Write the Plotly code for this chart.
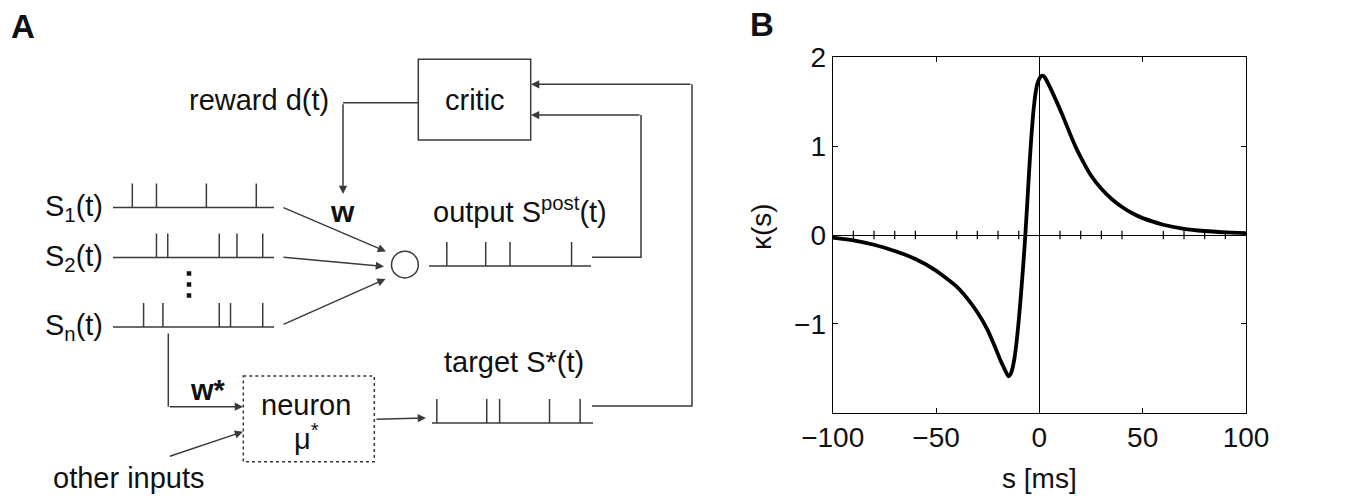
import plotly.graph_objects as go

# ---------------- data ----------------
# spike times (ms inside a 100 ms window) of each spike train in panel A
spikes_s1 = [12, 27, 58, 89]
spikes_s2 = [27, 34, 66, 77, 93]
spikes_sn = [19, 31, 66, 73, 93]
spikes_post = [11, 35, 50, 88]
spikes_target = [3, 34, 42, 73, 92]

# learning window kappa(s) of panel B
s_ms = [-100, -90, -80, -70, -60, -50, -40, -35, -30, -25, -22, -19, -17, -16,
        -15, -14, -13, -12, -11, -10, -9, -8, -7, -6, -5, -4, -3, -2, -1, 0, 1,
        2, 3, 5, 8, 11, 15, 18, 22, 25, 30, 35, 40, 45, 50, 55, 60, 70, 80, 90, 100]
kappa = [-0.03, -0.06, -0.11, -0.18, -0.27, -0.40, -0.58, -0.71, -0.87, -1.07,
         -1.23, -1.40, -1.50, -1.55, -1.59, -1.57, -1.50, -1.38, -1.20, -0.97,
         -0.70, -0.40, -0.08, 0.30, 0.70, 1.06, 1.36, 1.57, 1.70, 1.76, 1.79,
         1.79, 1.76, 1.67, 1.52, 1.36, 1.13, 0.97, 0.79, 0.67, 0.52, 0.405, 0.315,
         0.245, 0.19, 0.15, 0.115, 0.07, 0.045, 0.03, 0.02]

x_tick_vals = [-100, -50, 0, 50, 100]
y_tick_vals = [-1, 0, 1, 2]
y_tick_text = ["\u22121", "0", "1", "2"]
minor_x = [-90, -80, -70, -60, -40, -30, -20, -10, 10, 20, 30, 40, 60, 70, 80, 90]

# ---------------- styling ----------------
W, H = 1349, 496
FONT = "Liberation Sans, Arial, Helvetica, sans-serif"
LINE = "#3a3a3a"
LW = 1.5
TXT = 29
SPIKE_H = 24

fig = go.Figure()


def train_xy(times, x0, x1, yb):
    xs, ys = [x0, x1, None], [yb, yb, None]
    for t in times:
        px = x0 + t / 100.0 * (x1 - x0)
        xs += [px, px, None]
        ys += [yb, yb - SPIKE_H, None]
    return xs, ys


trains = [
    (spikes_s1, 113, 274, 207.5),
    (spikes_s2, 113, 274, 257.5),
    (spikes_sn, 113, 274, 327),
    (spikes_post, 429, 591, 266),
    (spikes_target, 432, 593, 423),
]
for times, x0, x1, yb in trains:
    xs, ys = train_xy(times, x0, x1, yb)
    fig.add_trace(go.Scatter(x=xs, y=ys, mode="lines", xaxis="x", yaxis="y",
                             line=dict(color=LINE, width=LW), hoverinfo="skip",
                             showlegend=False))

# plain connector polylines
paths = [
    ([418, 343], [102.7, 102.7]),                  # critic -> reward line
    ([592, 641, 641], [257.3, 257.3, 115]),        # output feedback
    ([592, 692, 692], [406, 406, 84.3]),           # target feedback
    ([168.3, 168.3], [333.5, 406.7]),              # w* branch
]
for xs, ys in paths:
    fig.add_trace(go.Scatter(x=xs, y=ys, mode="lines", xaxis="x", yaxis="y",
                             line=dict(color=LINE, width=LW), hoverinfo="skip",
                             showlegend=False))

# vertical ellipsis between S2 and Sn
fig.add_trace(go.Scatter(x=[189, 189, 189], y=[273.5, 284.5, 295.5], mode="markers",
                         xaxis="x", yaxis="y",
                         marker=dict(symbol="square", size=4.5, color="#111"),
                         hoverinfo="skip", showlegend=False))

shapes = [
    dict(type="rect", xref="x", yref="y", x0=418.3, x1=530.7, y0=59.3, y1=140,
         line=dict(color=LINE, width=LW)),
    dict(type="rect", xref="x", yref="y", x0=243.3, x1=374.3, y0=376, y1=461.7,
         line=dict(color=LINE, width=LW, dash="dot")),
    dict(type="circle", xref="x", yref="y", x0=391.5, x1=418.3, y0=251.3, y1=278,
         line=dict(color=LINE, width=LW)),
]

annotations = []


def arrow(x_head, y_head, x_tail, y_tail):
    annotations.append(dict(x=x_head, y=y_head, ax=x_tail, ay=y_tail,
                            xref="x", yref="y", axref="x", ayref="y", text="",
                            showarrow=True, arrowhead=2, arrowsize=1.1,
                            arrowwidth=LW, arrowcolor=LINE, standoff=0))


arrow(343, 194, 343, 102.7)        # reward -> w
arrow(386, 251.5, 282, 207)        # S1 -> neuron
arrow(384, 266.5, 282, 257)        # S2 -> neuron
arrow(385.5, 279, 282, 325)        # Sn -> neuron
arrow(531, 115, 641, 115)          # output -> critic
arrow(531, 84.3, 692, 84.3)        # target -> critic
arrow(243, 406.7, 168.3, 406.7)    # w* -> teacher neuron
arrow(243, 431.7, 168.3, 456.7)    # other inputs -> teacher neuron
arrow(426, 418, 375, 419.3)        # teacher neuron -> target train


def label(x, y, text, size=TXT, xanchor="center", **kw):
    annotations.append(dict(x=x, y=y, xref="x", yref="y", text=text,
                            showarrow=False, xanchor=xanchor, yanchor="middle",
                            font=dict(family=FONT, size=size, color="#111"), **kw))


label(259, 100, "reward d(t)")
label(474.5, 100, "critic")
label(342, 211, "<b>w</b>", size=30)
label(105, 208, "S<sub>1</sub>(t)", xanchor="right")
label(105, 258, "S<sub>2</sub>(t)", xanchor="right")
label(105, 327, "S<sub>n</sub>(t)", xanchor="right")
label(520, 210, "output S<sup>post</sup>(t)")
label(514, 362, "target S*(t)")
label(306, 405, "neuron")
label(306, 437, "\u03bc<sup>*</sup>")
label(208, 390, "<b>w*</b>")
label(128.5, 478, "other inputs")
label(22.5, 26, "<b>A</b>", size=33)
label(761.5, 24, "<b>B</b>", size=33)

# ---------------- panel B ----------------
fig.add_trace(go.Scatter(x=minor_x, y=[0] * len(minor_x), mode="markers",
                         xaxis="x2", yaxis="y2",
                         marker=dict(symbol="line-ns", size=6,
                                     line=dict(color="#111", width=1.3)),
                         hoverinfo="skip", showlegend=False))
fig.add_trace(go.Scatter(x=s_ms, y=kappa, mode="lines", xaxis="x2", yaxis="y2",
                         line=dict(color="black", width=3.8, shape="spline",
                                   smoothing=0.5),
                         showlegend=False))

bx0, bx1, by0, by1 = 832.7, 1246, 57.3, 412.7
annotations.append(dict(x=(bx0 + bx1) / 2 / W, y=1 - 478 / H, xref="paper", yref="paper",
                        text="s [ms]", showarrow=False, xanchor="center",
                        yanchor="middle", font=dict(family=FONT, size=28, color="#111")))
annotations.append(dict(x=761 / W, y=1 - 227 / H, xref="paper", yref="paper",
                        text="\u03ba(s)", showarrow=False, textangle=-90,
                        xanchor="center", yanchor="middle",
                        font=dict(family=FONT, size=28, color="#111")))

axis_common = dict(showline=True, linecolor="black", linewidth=1.2, mirror="ticks",
                   ticks="inside", ticklen=5, tickwidth=1.2, tickcolor="black",
                   showgrid=False, zeroline=True, zerolinecolor="black",
                   zerolinewidth=1.2, automargin=False,
                   tickfont=dict(family=FONT, size=28, color="#111"))

fig.update_layout(
    width=W, height=H,
    margin=dict(l=0, r=0, t=0, b=0, autoexpand=False),
    paper_bgcolor="white", plot_bgcolor="rgba(0,0,0,0)",
    xaxis=dict(domain=[0, 1], range=[0, W], visible=False, fixedrange=True,
               automargin=False),
    yaxis=dict(domain=[0, 1], range=[H, 0], visible=False, fixedrange=True,
               automargin=False),
    xaxis2=dict(domain=[bx0 / W, bx1 / W], range=[-100, 100], anchor="y2",
                tickvals=x_tick_vals, **axis_common),
    yaxis2=dict(domain=[1 - by1 / H, 1 - by0 / H], range=[-2, 2], anchor="x2",
                tickvals=y_tick_vals, ticktext=y_tick_text, **axis_common),
    shapes=shapes,
    annotations=annotations,
    showlegend=False,
)

fig.write_html("out.html")
